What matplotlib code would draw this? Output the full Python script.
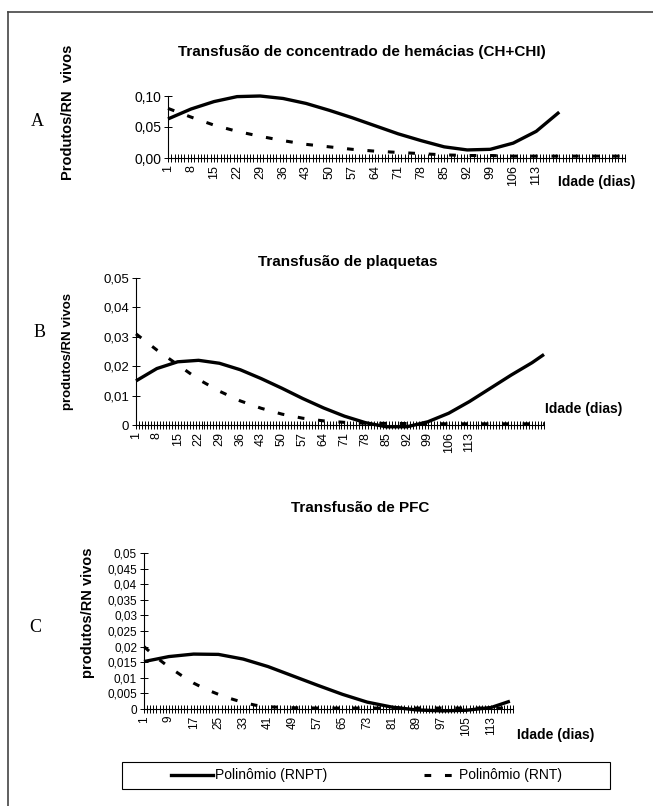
import numpy as np
import matplotlib
matplotlib.use('Agg')
import matplotlib.pyplot as plt
from matplotlib.lines import Line2D
from matplotlib.patches import Rectangle
from matplotlib.ticker import MultipleLocator

plt.rcParams['font.family'] = ['Liberation Sans', 'DejaVu Sans']

W, H = 653, 806

# --- data (day -> products per live newborn) ---
# A: packed red cells
a_days_rnpt = [1, 8, 15, 22, 29, 36, 43, 50, 57, 64, 71, 78, 85, 92, 99, 106, 113, 120]
a_rnpt = [0.063, 0.079, 0.091, 0.099, 0.100, 0.096, 0.088, 0.077, 0.065, 0.052,
          0.039, 0.028, 0.018, 0.013, 0.014, 0.024, 0.043, 0.074]
a_days_rnt = [1, 8, 15, 22, 29, 36, 43, 50, 57, 64, 71, 78, 85, 92, 99, 106, 113, 120, 127, 134, 140]
a_rnt = [0.080, 0.066, 0.053, 0.043, 0.035, 0.028, 0.022, 0.018, 0.014, 0.011,
         0.009, 0.007, 0.005, 0.004, 0.004, 0.003, 0.003, 0.003, 0.003, 0.003, 0.003]

# B: platelets
b_days_rnpt = [1, 8, 15, 22, 29, 36, 43, 50, 57, 64, 71, 78, 85, 92, 99, 106, 113, 120, 127, 134, 138]
b_rnpt = [0.0150, 0.0192, 0.0215, 0.0220, 0.0210, 0.0188, 0.0158, 0.0125, 0.0090, 0.0058,
          0.0030, 0.0008, -0.0006, -0.0006, 0.0011, 0.0040, 0.0080, 0.0125, 0.0170, 0.0212, 0.0240]
b_days_rnt = [1, 8, 15, 22, 29, 36, 43, 50, 57, 64, 71, 78, 92, 106, 120, 138]
b_rnt = [0.0310, 0.0255, 0.0205, 0.0155, 0.0115, 0.0082, 0.0057, 0.0037, 0.0023, 0.0014,
         0.0009, 0.0006, 0.0005, 0.0004, 0.0004, 0.0004]

# C: fresh frozen plasma
c_days_rnpt = [1, 9, 17, 25, 33, 41, 49, 57, 65, 73, 81, 89, 97, 105, 113, 119]
c_rnpt = [0.0152, 0.0168, 0.0176, 0.0175, 0.0160, 0.0136, 0.0106, 0.0076, 0.0047, 0.0022,
          0.0006, -0.0003, -0.0006, -0.0004, 0.0005, 0.0025]
c_days_rnt = [1, 5, 9, 13, 17, 21, 25, 29, 33, 37, 41, 49, 57, 73, 89, 105, 119]
c_rnt = [0.0200, 0.0165, 0.0135, 0.0108, 0.0083, 0.0063, 0.0047, 0.0033, 0.0021, 0.0012,
         0.0007, 0.0004, 0.0003, 0.0003, 0.0003, 0.0003, 0.0003]

a_xticks = list(range(1, 114, 7))
b_xticks = list(range(1, 114, 7))
c_xticks = list(range(1, 114, 8))

a_yticks = [0.0, 0.05, 0.10]
a_ylabels = ['0,00', '0,05', '0,10']
b_yticks = [0.0, 0.01, 0.02, 0.03, 0.04, 0.05]
b_ylabels = ['0', '0,01', '0,02', '0,03', '0,04', '0,05']
c_yticks = [0.0, 0.005, 0.01, 0.015, 0.02, 0.025, 0.03, 0.035, 0.04, 0.045, 0.05]
c_ylabels = ['0', '0,005', '0,01', '0,015', '0,02', '0,025', '0,03', '0,035', '0,04', '0,045', '0,05']

series_names = ['Polinômio (RNPT)', 'Polinômio (RNT)']


def px(x, y):
    return x / W, 1 - y / H


def make_ax(left, right, top, bottom):
    l, t = px(left, top)
    r, b = px(right, bottom)
    return fig.add_axes([l, b, r - l, t - b])


fig = plt.figure(figsize=(W / 100, H / 100), dpi=100)

# page frame
fig.add_artist(Line2D([8 / W, 8 / W], [0, 1 - 12 / H], color='#444444', lw=1.2))
fig.add_artist(Line2D([8 / W, 1], [1 - 12 / H, 1 - 12 / H], color='#444444', lw=1.2))

DASH = (0, (2.2, 4.5))
solid_kw = dict(color='black', lw=2.4, clip_on=False, solid_capstyle='butt')
dash_kw = dict(color='black', lw=2.2, linestyle=DASH, clip_on=False)


def style(ax, xmax, xticks, yticks, ylabels, ymax, xfs, yfs):
    ax.set_xlim(1, xmax)
    ax.set_ylim(0, ymax)
    for s in ['top', 'right']:
        ax.spines[s].set_visible(False)
    for s in ['left', 'bottom']:
        ax.spines[s].set_linewidth(0.8)
    ax.set_xticks(xticks)
    ax.set_xticklabels([str(t) for t in xticks], rotation=90, fontsize=xfs)
    ax.xaxis.set_minor_locator(MultipleLocator(1))
    ax.tick_params(axis='x', which='both', direction='inout', length=6, width=0.7, pad=2)
    ax.set_yticks(yticks)
    ax.set_yticklabels(ylabels, fontsize=yfs)
    ax.tick_params(axis='y', direction='inout', length=6, width=0.7, pad=2)
    ax.patch.set_alpha(0)


# ---- A ----
fig.text(*px(362, 52), 'Transfusão de concentrado de hemácias (CH+CHI)', ha='center', va='center',
         fontsize=11, fontweight='bold')
axA = make_ax(168, 625, 96, 158)
axA.plot(a_days_rnpt, a_rnpt, **solid_kw)
axA.plot(a_days_rnt, a_rnt, **dash_kw)
style(axA, 140, a_xticks, a_yticks, a_ylabels, 0.10, 9, 10)
fig.text(*px(68, 112), 'Produtos/RN  vivos', rotation=90, ha='center', va='center',
         fontsize=10.5, fontweight='bold')
fig.text(*px(37, 122), 'A', ha='center', va='center', fontsize=13, family='Liberation Serif')
fig.text(*px(558, 182), 'Idade (dias)', ha='left', va='center', fontsize=10, fontweight='bold')

# ---- B ----
fig.text(*px(348, 262), 'Transfusão de plaquetas', ha='center', va='center',
         fontsize=11, fontweight='bold')
axB = make_ax(136, 544, 278, 425)
axB.plot(b_days_rnpt, b_rnpt, **solid_kw)
axB.plot(b_days_rnt, b_rnt, **dash_kw)
style(axB, 138, b_xticks, b_yticks, b_ylabels, 0.05, 9, 9.5)
fig.text(*px(68, 351), 'produtos/RN vivos', rotation=90, ha='center', va='center',
         fontsize=9.5, fontweight='bold')
fig.text(*px(40, 333), 'B', ha='center', va='center', fontsize=13, family='Liberation Serif')
fig.text(*px(545, 409), 'Idade (dias)', ha='left', va='center', fontsize=10, fontweight='bold')

# ---- C ----
fig.text(*px(360, 508), 'Transfusão de PFC', ha='center', va='center',
         fontsize=11, fontweight='bold')
axC = make_ax(144, 513, 553, 709)
axC.plot(c_days_rnpt, c_rnpt, **solid_kw)
axC.plot(c_days_rnt, c_rnt, **dash_kw)
style(axC, 120, c_xticks, c_yticks, c_ylabels, 0.05, 8.5, 8.5)
fig.text(*px(88, 613), 'produtos/RN vivos', rotation=90, ha='center', va='center',
         fontsize=10.5, fontweight='bold')
fig.text(*px(35, 627), 'C', ha='center', va='center', fontsize=13, family='Liberation Serif')
fig.text(*px(517, 735), 'Idade (dias)', ha='left', va='center', fontsize=10, fontweight='bold')

# ---- legend box (drawn as in the source layout) ----
bx0, by0 = px(122, 789)
bx1, by1 = px(610, 762)
fig.add_artist(Rectangle((bx0, by0), bx1 - bx0, by1 - by0, transform=fig.transFigure,
                         facecolor='white', edgecolor='black', lw=0.8))
ly = 1 - 775 / H
fig.add_artist(Line2D([171 / W, 213 / W], [ly, ly], color='black', lw=2.4))
fig.text(215 / W, ly, series_names[0], ha='left', va='center', fontsize=10)
fig.add_artist(Line2D([424 / W, 456 / W], [ly, ly], color='black', lw=2.2, linestyle=DASH))
fig.text(459 / W, ly, series_names[1], ha='left', va='center', fontsize=10)

fig.savefig('out.png', dpi=100)
